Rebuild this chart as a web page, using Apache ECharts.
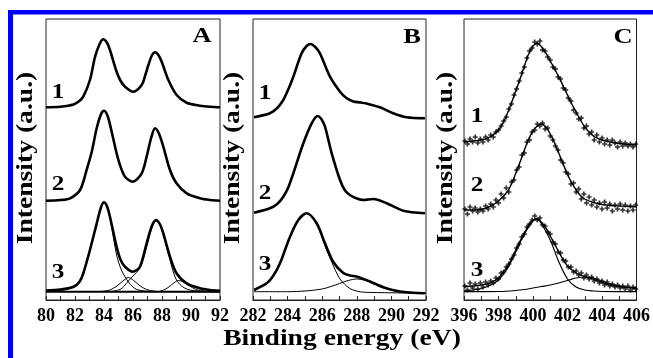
<!DOCTYPE html>
<html>
<head>
<meta charset="utf-8">
<script src="https://cdn.jsdelivr.net/npm/echarts@6/dist/echarts.min.js"></script>
<style>
  html, body { margin: 0; padding: 0; background: #fff; }
  #chart { width: 653px; height: 358px; }
</style>
</head>
<body>
<div id="chart"></div>
<script>
// Three stacked XPS panels (A: Au 4f, B: C 1s, C: N 1s). Intensities in arbitrary units,
// each spectrum already carries its vertical offset.

const xRangeA = [80, 92];
const xRangeB = [282, 292];
const xRangeC = [396, 406];
const panelTags = ['A', 'B', 'C'];
const curveTags = ['1', '2', '3'];

// ---- panel A ----
const a1 = [[80,192.7],[81,193.3],[81.9,195.5],[82.3,199],[82.57,203.3],[83.03,220],[83.38,243],[83.7,256],[83.95,260.7],[84.2,257.5],[84.41,250],[84.87,228.3],[85.15,219],[85.45,213.3],[86.02,208.3],[86.6,215],[86.85,225],[87.06,235],[87.3,244.5],[87.52,247.7],[87.75,245],[87.98,238.3],[88.44,220],[89.01,205],[89.7,197.3],[90.62,194.3],[91.3,193.2],[92,192.7]];
const a2 = [[80,99.3],[81,100],[81.66,101.7],[82.35,110],[82.8,130],[83.15,148],[83.5,172],[83.8,186],[84.0,189.3],[84.25,184],[84.5,170],[84.87,146.7],[85.1,135],[85.45,123.3],[85.98,118.3],[86.6,126.7],[86.94,143.3],[87.25,162],[87.52,171.7],[87.8,166],[88.09,153.3],[88.55,130],[89.0,116.7],[89.7,106.7],[90.62,101.7],[91.3,100],[92,99.3]];
const a3 = [[80,9.5],[81,10.5],[81.9,13.3],[82.3,18],[82.57,26.7],[83.03,50],[83.5,76.7],[83.8,93],[84.0,97.7],[84.2,94],[84.41,83.3],[84.87,53.3],[85.15,40],[85.45,33.3],[85.98,28.3],[86.48,33.3],[86.94,56.7],[87.3,74],[87.59,80],[87.85,76],[88.09,66.7],[88.55,43.3],[89.0,26.7],[89.7,16.7],[90.62,11.7],[91.3,10],[92,9.3]];
const a3Peak1 = [[80,8.5],[81,9.5],[81.9,12.5],[82.3,17],[82.57,25.5],[83.03,49],[83.5,76],[83.8,92.5],[84.0,97],[84.2,93],[84.41,82],[84.87,45],[85.2,30],[85.68,18],[86.0,13],[86.26,10.5],[86.8,9],[87.5,8.5],[92,8.3]];
const a3Peak2 = [[83.6,8.3],[84.0,8.8],[84.41,10],[84.9,14],[85.3,19],[85.68,22.5],[86.05,19.5],[86.5,14],[86.94,10.5],[87.5,8.8],[88,8.3]];
const a3Peak3 = [[84.5,8.5],[85.1,10.5],[85.4,14],[85.68,19],[86.0,24],[86.48,32],[86.94,53],[87.3,72],[87.59,79],[87.85,75],[88.09,65],[88.55,40],[88.78,28],[89.0,20],[89.35,14],[89.7,11],[90.2,9.3],[91,8.5],[92,8.3]];
const a3Peak4 = [[87.75,8.3],[88.2,10.5],[88.6,14.5],[88.9,18],[89.12,19.5],[89.4,18.5],[89.8,15],[90.2,11.5],[90.62,9.3],[91.2,8.5],[92,8.3]];
const a3Base = [[80,8.3],[92,8.3]];

// ---- panel B ----
const b1 = [[282.06,182.7],[282.98,186.7],[283.4,192],[283.75,200],[284.05,211],[284.33,223.3],[284.81,246.7],[285.1,254],[285.33,256],[285.6,253],[285.87,246.7],[286.45,223.3],[287.03,208.3],[287.4,202],[287.8,198.6],[288.2,197.6],[288.57,196.4],[289.34,192.7],[290.1,186.7],[290.88,182.7],[291.94,181.7]];
const b2 = [[282.06,87.3],[282.98,91.7],[283.4,96],[283.75,103.3],[284.05,113],[284.33,126.7],[284.91,156.7],[285.39,176.7],[285.74,184],[285.95,181],[286.16,173.3],[286.55,146.7],[287.03,120],[287.3,110],[287.6,105],[288.0,101.5],[288.38,100],[288.95,101],[289.73,96.7],[290.69,89.3],[291.94,86.7]];
const b3 = [[282.06,10],[282.79,16.7],[283.2,25],[283.56,36.7],[284.14,63.3],[284.62,80],[285.1,86.7],[285.68,76.7],[286.16,56.7],[286.64,38],[287.22,27],[287.6,24.5],[287.99,23.5],[288.76,18.5],[289.53,12.8],[290.5,8.5],[291.94,6.7]];
const b3Peak1 = [[282.06,9.5],[282.79,16.5],[283.2,24.5],[283.56,36.5],[284.14,63],[284.62,80],[285.1,86.5],[285.68,76],[286.16,54],[286.55,38],[287.03,21],[287.6,11.5],[288.2,8.2],[289,7.5],[292,6.7]];
const b3Peak2 = [[282.06,8.3],[284.0,8.3],[285.0,9],[286.0,11],[286.5,13.5],[287.0,16.5],[287.5,19.5],[288.0,21],[288.5,19.5],[289.0,16],[289.5,12.3],[290.0,10],[290.5,8.5],[291.0,7.5],[292.0,6.7]];

// ---- panel C: fits ----
const c1Fit = [[396,158],[396.5,159],[397,160],[397.5,163],[398,170],[398.25,176.7],[398.5,186],[398.75,197],[399,209],[399.25,221],[399.5,234],[399.75,246],[400,254],[400.25,257],[400.5,253],[400.75,247],[401,239],[401.25,231],[401.5,223],[401.75,214],[402,205],[402.25,196],[402.5,188],[402.75,180],[403,173],[403.25,168],[403.5,164],[403.75,161.7],[404,160],[404.5,158],[405,156.5],[405.5,155.5],[406,155]];
const c2Fit = [[396,90],[396.5,90],[397,90.5],[397.5,93.5],[398,99],[398.5,108],[398.75,116],[399,126.7],[399.25,138],[399.5,150],[399.75,161],[400,169],[400.25,174],[400.5,176],[400.75,173],[401,166],[401.25,157],[401.5,146.7],[401.75,136],[402,125.5],[402.25,117],[402.5,110],[402.75,104.5],[403,101],[403.5,97.5],[404,95.5],[404.5,94.5],[405,94],[405.5,93.5],[406,93.3]];
const c3Fit = [[396,13.3],[396.5,14],[397,15],[397.5,17],[398,22],[398.5,33],[398.75,41],[399,50],[399.25,59],[399.5,67],[399.75,75],[400,80],[400.25,81.5],[400.5,77.5],[400.75,72],[401,64],[401.25,56],[401.5,48],[401.75,40],[402,34],[402.5,27],[403,23.5],[403.5,21],[404,17.5],[404.5,15],[405,13.5],[405.5,12.5],[406,11.7]];
const c3Peak1 = [[396,9],[396.5,10],[397,11.5],[397.5,14.5],[398,20],[398.5,31],[399,48],[399.5,66],[400,79],[400.25,80.5],[400.5,76],[401,60],[401.5,38],[402,21],[402.5,13],[403,10],[403.5,9],[404,8.5],[406,8.3]];
const c3Peak2 = [[396,8.3],[398,8.5],[399,9.5],[399.5,10.5],[400,12],[400.5,13.5],[401,15],[401.5,17],[402,19.5],[402.5,22],[403,23],[403.5,22],[404,19],[404.5,16],[405,13.8],[405.5,12.5],[406,11.7]];

// ---- panel C: measured points ----
const c1Pts = [[396.05,159],[396.2,156],[396.35,161],[396.5,158],[396.65,163],[396.8,157],[396.95,161],[397.1,158],[397.25,163],[397.4,160],[397.55,165],[397.7,163],[397.85,168],[398.0,170],[398.15,174],[398.3,179],[398.45,183],[398.6,191],[398.75,196],[398.9,205],[399.05,211],[399.2,219],[399.35,227],[399.5,233],[399.65,242],[399.8,249],[399.95,252],[400.1,258],[400.25,256],[400.4,259],[400.55,250],[400.7,249],[400.85,243],[401.0,240],[401.15,233],[401.3,231],[401.45,223],[401.6,221],[401.75,212],[401.9,210],[402.05,202],[402.2,199],[402.35,190],[402.5,187],[402.65,181],[402.8,182],[402.95,172],[403.1,174],[403.25,166],[403.4,168],[403.55,160],[403.7,165],[403.85,158],[404.0,162],[404.15,156],[404.3,160],[404.45,155],[404.6,160],[404.75,157],[404.9,153],[405.05,158],[405.2,154],[405.35,157],[405.5,154],[405.65,156],[405.8,153],[405.95,156]];
const c2Pts = [[396.05,91],[396.2,86],[396.35,93],[396.5,89],[396.65,92],[396.8,88],[396.95,91],[397.1,89],[397.25,94],[397.4,91],[397.55,96],[397.7,93],[397.85,100],[398.0,97],[398.15,106],[398.3,102],[398.45,112],[398.6,108],[398.75,118],[398.9,120],[399.05,130],[399.2,133],[399.35,145],[399.5,147],[399.65,158],[399.8,160],[399.95,168],[400.1,170],[400.25,176],[400.4,174],[400.55,177],[400.7,171],[400.85,172],[401.0,164],[401.15,160],[401.3,154],[401.45,150],[401.6,140],[401.75,137],[401.9,128],[402.05,126],[402.2,116],[402.35,117],[402.5,108],[402.65,111],[402.8,101],[402.95,106],[403.1,97],[403.25,103],[403.4,95],[403.55,100],[403.7,93],[403.85,97],[404.0,91],[404.15,98],[404.3,92],[404.45,96],[404.6,89],[404.75,95],[404.9,91],[405.05,96],[405.2,90],[405.35,95],[405.5,89],[405.65,94],[405.8,90],[405.95,95]];
const c3Pts = [[396.05,14],[396.2,10],[396.35,17],[396.5,12],[396.65,16],[396.8,11],[396.95,17],[397.1,13],[397.25,18],[397.4,15],[397.55,19],[397.7,17],[397.85,22],[398.0,21],[398.15,27],[398.3,28],[398.45,33],[398.6,36],[398.75,41],[398.9,45],[399.05,52],[399.2,56],[399.35,63],[399.5,66],[399.65,73],[399.8,76],[399.95,80],[400.1,84],[400.25,80],[400.4,82],[400.55,75],[400.7,74],[400.85,68],[401.0,66],[401.15,58],[401.3,56],[401.45,48],[401.6,47],[401.75,40],[401.9,39],[402.05,33],[402.2,33],[402.35,28],[402.5,29],[402.65,25],[402.8,27],[402.95,22],[403.1,25],[403.25,21],[403.4,23],[403.55,19],[403.7,21],[403.85,17],[404.0,19],[404.15,15],[404.3,18],[404.45,14],[404.6,16],[404.75,13],[404.9,15],[405.05,12],[405.2,14],[405.35,11],[405.5,14],[405.65,10],[405.8,13],[405.95,11]];

const INK = '#000';
const SERIF = '"Liberation Serif", "Times New Roman", serif';
const PLUS = 'path://M0,1H3V2H0Z M1,0H2V3H1Z';

// panel boxes in px: left, width (top 19, bottom edge at y=300)
const boxes = [[46, 174], [253, 173], [464, 175]];
const ranges = [xRangeA, xRangeB, xRangeC];

function line(data, idx, width) {
  return {
    type: 'line', data, xAxisIndex: idx, yAxisIndex: idx,
    showSymbol: false, smooth: 0.3, silent: true,
    lineStyle: { color: INK, width },
  };
}

function dots(data, idx) {
  return {
    type: 'scatter', data, xAxisIndex: idx, yAxisIndex: idx,
    symbol: PLUS, symbolSize: 5, silent: true,
    itemStyle: { color: INK },
  };
}

function txt(s, x, y, size, rot) {
  return {
    type: 'text', x, y, rotation: rot || 0, scaleX: 1.2, silent: true,
    style: {
      text: s, fill: INK, font: 'bold ' + size + 'px ' + SERIF,
      textAlign: 'center', textVerticalAlign: 'middle',
    },
  };
}

const chart = echarts.init(document.getElementById('chart'), null, { renderer: 'canvas' });

chart.setOption({
  animation: false,
  backgroundColor: '#fff',
  grid: boxes.map(([left, width]) => ({
    left, width, top: 19, height: 281,
    show: true, borderColor: '#222', borderWidth: 1, backgroundColor: 'transparent',
  })),
  xAxis: ranges.map((r, i) => ({
    type: 'value', gridIndex: i, min: r[0], max: r[1], interval: 2,
    axisLine: { show: true, onZero: false, lineStyle: { color: '#222', width: 1 } },
    axisTick: { show: true, inside: true, length: 4, lineStyle: { color: '#222' } },
    minorTick: { show: true, splitNumber: 2, length: 4, lineStyle: { color: '#222' } },
    splitLine: { show: false },
    axisLabel: {
      color: INK, fontFamily: SERIF, fontWeight: 'bold', fontSize: 18, margin: 7,
    },
  })),
  yAxis: ranges.map((r, i) => ({
    type: 'value', gridIndex: i, min: 0, max: 281, show: false,
  })),
  series: [
    line(a3Base, 0, 2),
    line(a3Peak1, 0, 1), line(a3Peak2, 0, 1), line(a3Peak3, 0, 1), line(a3Peak4, 0, 1),
    line(a1, 0, 2.6), line(a2, 0, 2.6), line(a3, 0, 2.6),
    line(b3Peak1, 1, 1), line(b3Peak2, 1, 1),
    line(b1, 1, 2.6), line(b2, 1, 2.6), line(b3, 1, 2.6),
    dots(c1Pts, 2), dots(c2Pts, 2), dots(c3Pts, 2),
    line(c1Fit, 2, 1.4), line(c2Fit, 2, 1.4), line(c3Fit, 2, 1.4),
    line(c3Peak1, 2, 1.2), line(c3Peak2, 2, 1.2),
  ],
  graphic: [
    // blue frame of the figure
    { type: 'rect', silent: true, shape: { x: 8, y: 10, width: 645, height: 4.5 }, style: { fill: '#0000ff' } },
    { type: 'rect', silent: true, shape: { x: 8, y: 10, width: 5, height: 348 }, style: { fill: '#0000ff' } },
    txt('Intensity (a.u.)', 26, 158, 23, Math.PI / 2),
    txt('Intensity (a.u.)', 233, 158, 23, Math.PI / 2),
    txt('Intensity (a.u.)', 446, 158, 23, Math.PI / 2),
    txt('Binding energy (eV)', 342, 339, 23),
    txt(panelTags[0], 202, 36, 22),
    txt(panelTags[1], 412, 37, 22),
    txt(panelTags[2], 623, 37, 22),
    txt(curveTags[0], 58, 93, 21), txt(curveTags[1], 58, 185, 21), txt(curveTags[2], 58, 273, 21),
    txt(curveTags[0], 265, 94, 21), txt(curveTags[1], 265, 194, 21), txt(curveTags[2], 265, 265, 21),
    txt(curveTags[0], 477, 117, 21), txt(curveTags[1], 477, 186, 21), txt(curveTags[2], 477, 271, 21),
  ],
});
</script>
</body>
</html>
